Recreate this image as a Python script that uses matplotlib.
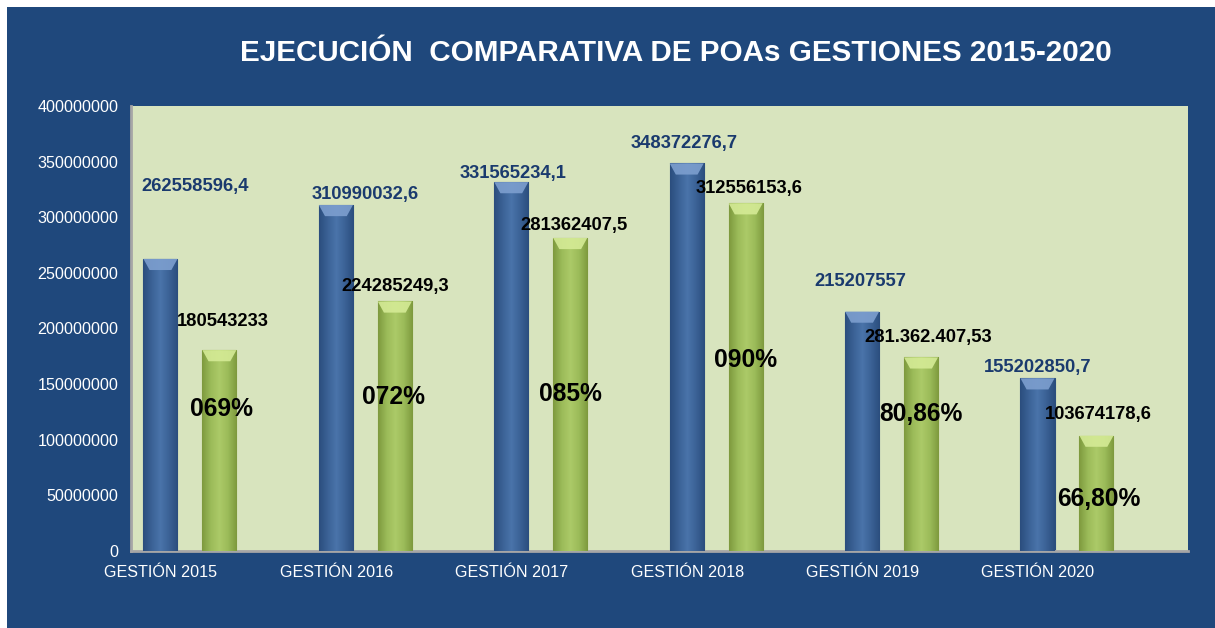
import numpy as np
import matplotlib
matplotlib.use("Agg")
import matplotlib.pyplot as plt
from matplotlib.patches import Rectangle, Polygon

plt.rcParams['font.family'] = ['Liberation Sans', 'DejaVu Sans']

# data
gestiones = ["GESTIÓN 2015", "GESTIÓN 2016", "GESTIÓN 2017", "GESTIÓN 2018", "GESTIÓN 2019", "GESTIÓN 2020"]
programado = [262558596.4, 310990032.6, 331565234.1, 348372276.7, 215207557, 155202850.7]
ejecutado = [180543233, 224285249.3, 281362407.5, 312556153.6, 174016830, 103674178.6]
lbl_prog = ["262558596,4", "310990032,6", "331565234,1", "348372276,7", "215207557", "155202850,7"]
lbl_ejec = ["180543233", "224285249,3", "281362407,5", "312556153,6", "281.362.407,53", "103674178,6"]
lbl_pct = ["069%", "072%", "085%", "090%", "80,86%", "66,80%"]

# label placement (x offset from category, y in data units)
pos_prog = [(0.03, 328e6), (0.0, 320e6), (-0.16, 339e6), (-0.18, 366e6), (-0.18, 242e6), (-0.165, 165e6)]
pos_ejec = [(0.19, 206e6), (0.17, 238e6), (0.19, 293e6), (0.19, 326e6), (0.21, 192e6), (0.18, 123e6)]
pos_pct = [(0.18, 128e6), (0.16, 138e6), (0.17, 141e6), (0.17, 172e6), (0.17, 123e6), (0.18, 47e6)]

BG = "#1F487C"
PLOT_BG = "#D8E4BE"

fig = plt.figure(figsize=(12.15, 6.28), dpi=100)
fig.patch.set_facecolor("white")
fig.patches.append(Rectangle((7 / 1215, 0), 1, 1 - 7 / 628, transform=fig.transFigure,
                             facecolor=BG, edgecolor="none", zorder=-10))

ax = fig.add_axes([131 / 1215, 1 - 551 / 628, 1057 / 1215, 445 / 628])
ax.set_facecolor(PLOT_BG)

x = np.arange(len(gestiones))
w = 0.194
off = 0.168


def cyl_bar(xc, h, dark, mid, light, top):
    rect = ax.bar(xc, h, w, color=mid, edgecolor=dark, linewidth=0.8, zorder=2)[0]
    cmap = matplotlib.colors.LinearSegmentedColormap.from_list("g", [dark, mid, light, mid, dark])
    grad = np.linspace(0, 1, 64).reshape(1, -1)
    im = ax.imshow(grad, extent=[xc - w / 2, xc + w / 2, 0, h], aspect="auto",
                   cmap=cmap, zorder=3)
    im.set_clip_path(rect)
    d = 10e6
    bevel = Polygon([(xc - w / 2, h), (xc + w / 2, h), (xc + w / 2 - 0.035, h - d),
                     (xc - w / 2 + 0.035, h - d)], closed=True, facecolor=top,
                    edgecolor="none", alpha=0.9, zorder=4)
    ax.add_patch(bevel)


for i in range(len(x)):
    cyl_bar(x[i] - off, programado[i], "#2B4E7E", "#3B6296", "#4A74AA", "#7D9FCF")
    cyl_bar(x[i] + off, ejecutado[i], "#7E9A3E", "#9BBB59", "#ACCA68", "#D5EB96")

for i in range(len(x)):
    ax.text(x[i] + pos_prog[i][0], pos_prog[i][1], lbl_prog[i], color="#1A3A6E",
            fontsize=13.2, fontweight="bold", ha="center", va="center", zorder=5)
    ax.text(x[i] + pos_ejec[i][0], pos_ejec[i][1], lbl_ejec[i], color="black",
            fontsize=13.2, fontweight="bold", ha="center", va="center", zorder=5)
    ax.text(x[i] + pos_pct[i][0], pos_pct[i][1], lbl_pct[i], color="black",
            fontsize=17.7, fontweight="bold", ha="center", va="center", zorder=5)

ax.set_xlim(-0.336, 5.69)
ax.set_ylim(0, 400000000)
ax.set_yticks(np.arange(0, 400000001, 50000000))
ax.set_yticklabels([str(v) for v in range(0, 400000001, 50000000)])
ax.set_xticks(x - 0.165)
ax.set_xticklabels(gestiones)
ax.tick_params(colors="white", labelsize=11.6, length=0)
ax.tick_params(axis="y", pad=9)
ax.tick_params(axis="x", pad=10)
for s in ["top", "right"]:
    ax.spines[s].set_visible(False)
ax.spines["left"].set_color("#A6A6A6")
ax.spines["bottom"].set_color("#A6A6A6")
ax.spines["left"].set_linewidth(2)
ax.spines["bottom"].set_linewidth(2)

fig.text(676 / 1215, 1 - 53 / 628, "EJECUCIÓN  COMPARATIVA DE POAs GESTIONES 2015-2020",
         color="white", fontsize=21.3, fontweight="bold", ha="center", va="center")

fig.savefig("out.png", dpi=100, facecolor=fig.get_facecolor())
